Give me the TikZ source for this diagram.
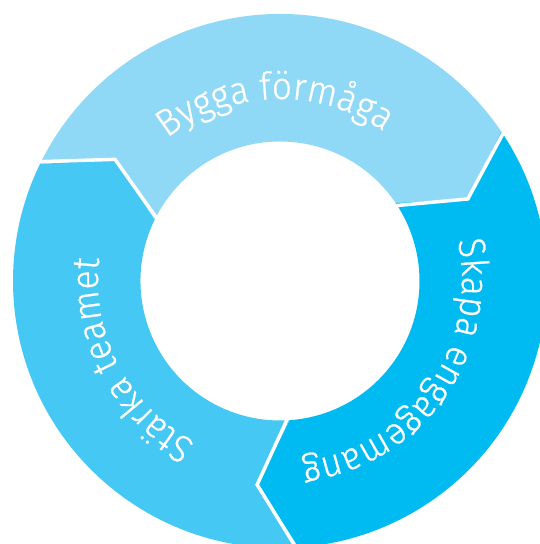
\documentclass[tikz,border=0pt]{standalone}
\usepackage{fontspec}
\IfFontExistsTF{Fira Sans Light}
  {\newfontfamily\ringfont{Fira Sans Light}[FakeStretch=0.93, FakeBold=0.7]}
  {\newfontfamily\ringfont{Fira Sans}[FakeStretch=0.93]}
\usetikzlibrary{decorations.text}

\definecolor{buildblue}{HTML}{8FD8F6}
\definecolor{teamblue}{HTML}{45C8F4}
\definecolor{engageblue}{HTML}{00BBF1}

\tikzset{
  divider/.style={white, line width=3.5pt, miter limit=10},
  ringlabel/.style={decorate, decoration={text along path, text align=center, text color=white}}
}

\begin{document}
\begin{tikzpicture}[x=1pt,y=1pt]
  \useasboundingbox (-280,-263) rectangle (260,281);
  %--------------- Bygga förmåga ---------------
  \fill[buildblue] (154:267) arc[start angle=154, end angle=34, radius=267]
    -- (23.6:205) -- (34:139.5) arc[start angle=34, end angle=154, radius=139.5]
    -- (143.6:205) -- cycle;
  %--------------- Skapa engagemang ---------------
  \fill[engageblue] (34:267) arc[start angle=34, end angle=-86, radius=267]
    -- (-96.4:205) -- (-86:139.5) arc[start angle=-86, end angle=34, radius=139.5]
    -- (23.6:205) -- cycle;
  %--------------- Stärka teamet ---------------
  \fill[teamblue] (274:267) arc[start angle=274, end angle=154, radius=267]
    -- (143.6:205) -- (154:139.5) arc[start angle=154, end angle=274, radius=139.5]
    -- (263.6:205) -- cycle;

  %--------------- dividers ---------------
  \draw[divider] (154:272) -- (143.6:205) -- (154:134);
  \draw[divider] (34:272) -- (23.6:205) -- (34:134);
  \draw[divider] (-86:272) -- (-96.4:205) -- (-86:134);

  %--------------- labels ---------------
  \path[ringlabel, decoration={text={|\ringfont\fontsize{38}{42}\selectfont|Bygga förmåga}}]
    (161.7:182) arc[start angle=161.7, end angle=21.7, radius=182];
  \path[ringlabel, decoration={text={|\ringfont\fontsize{38}{42}\selectfont|Skapa engagemang}}]
    (34.8:182) arc[start angle=34.8, end angle=-105.2, radius=182];
  \path[ringlabel, decoration={text={|\ringfont\fontsize{38}{42}\selectfont|Stärka teamet}}]
    (277.6:182) arc[start angle=277.6, end angle=137.6, radius=182];
\end{tikzpicture}
\end{document}
